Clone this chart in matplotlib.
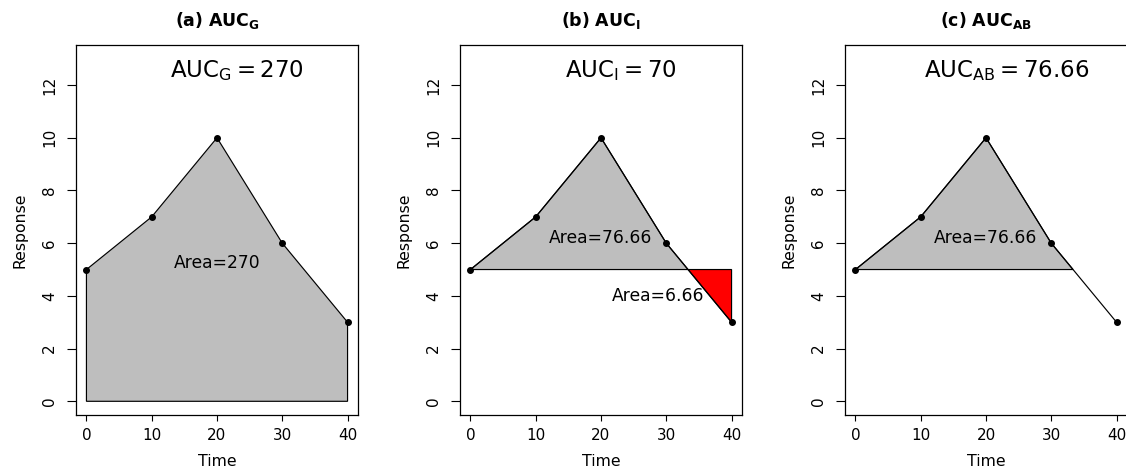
import numpy as np
import matplotlib
matplotlib.use("Agg")
import matplotlib.pyplot as plt

plt.rcParams['font.family'] = ['DejaVu Sans']
plt.rcParams['mathtext.fontset'] = 'dejavusans'

# Data
time = [0, 10, 20, 30, 40]
response = [5, 7, 10, 6, 3]
baseline = 5
titles = [r'$\mathbf{(a)\ AUC_G}$', r'$\mathbf{(b)\ AUC_I}$', r'$\mathbf{(c)\ AUC_{AB}}$']
auc_labels = [r'$\mathrm{AUC_G = 270}$', r'$\mathrm{AUC_I = 70}$', r'$\mathrm{AUC_{AB} = 76.66}$']
area_pos = [(20, 5.25, 'Area=270'), (20, 6.2, 'Area=76.66'), (20, 6.2, 'Area=76.66')]
neg_area = (28.7, 4.0, 'Area=6.66')
xticks = [0, 10, 20, 30, 40]
yticks = [0, 2, 4, 6, 8, 10, 12]

W, H = 1126, 472
fig = plt.figure(figsize=(W / 100, H / 100), dpi=100)
lefts = [76, 460, 845]
axw = 282
top, bottom = 45, 415

t = np.array(time, float)
r = np.array(response, float)
# crossing of baseline between 30 and 40
i = 3
tc = t[i] + (baseline - r[i]) * (t[i + 1] - t[i]) / (r[i + 1] - r[i])

for k in range(3):
    ax = fig.add_axes([lefts[k] / W, (H - bottom) / H, axw / W, (bottom - top) / H])
    ax.set_xlim(-1.6, 41.6)
    ax.set_ylim(-0.52, 13.52)
    if k == 0:
        px = [0] + time + [40]
        py = [0] + response + [0]
        ax.fill(px, py, facecolor='#BEBEBE', edgecolor='black', lw=0.85, zorder=1)
    else:
        px = list(t[:4]) + [tc]
        py = list(r[:4]) + [baseline]
        ax.fill(px, py, facecolor='#BEBEBE', edgecolor='black', lw=0.85, zorder=1)
        if k == 1:
            ax.fill([tc, 40, 40], [baseline, r[4], baseline], facecolor='red',
                    edgecolor='black', lw=0.85, zorder=1)
        ax.plot(time, response, color='black', lw=0.85, zorder=2)
    ax.plot(time, response, 'o', color='black', ms=4, zorder=3)
    ax.text(23.1, 12.55, auc_labels[k], ha='center', va='center', fontsize=16.5)
    ax.text(area_pos[k][0], area_pos[k][1], area_pos[k][2], ha='center', va='center', fontsize=12.3)
    if k == 1:
        ax.text(neg_area[0], neg_area[1], neg_area[2], ha='center', va='center', fontsize=12.3)
    ax.set_xticks(xticks)
    ax.set_yticks(yticks)
    ax.tick_params(axis='x', length=4.5, width=0.8, pad=5, labelsize=10.9)
    ax.tick_params(axis='y', length=6.8, width=0.8, pad=7, labelsize=10.9, labelrotation=90)
    for lab in ax.get_yticklabels():
        lab.set_va('center')
    for s in ax.spines.values():
        s.set_linewidth(0.9)
    ax.set_xlabel('Time', fontsize=11.3, labelpad=8)
    ax.set_ylabel('Response', fontsize=11.3, labelpad=10)
    ax.set_title(titles[k], fontsize=12.5, pad=14)

fig.savefig('out.png', dpi=100)
